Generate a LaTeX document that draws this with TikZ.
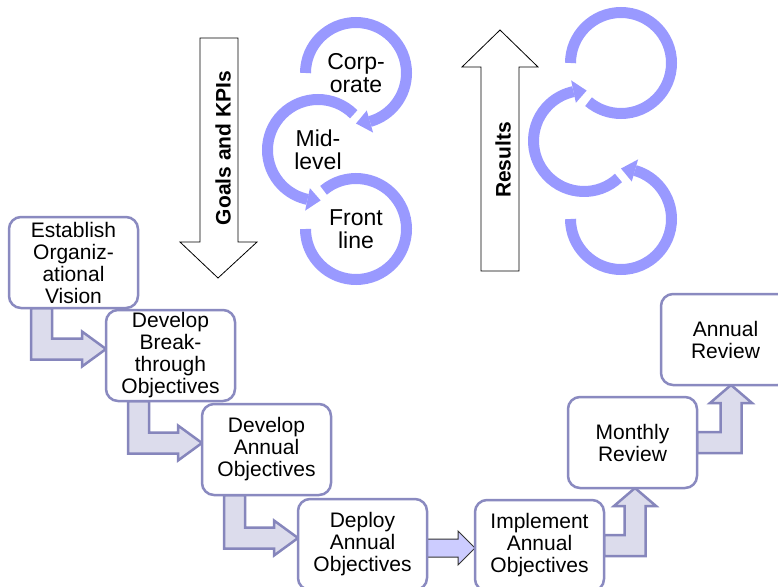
\documentclass[tikz,border=0pt]{standalone}
\usepackage{fontspec}
\setmainfont{Liberation Sans}
\usetikzlibrary{calc,backgrounds}

\definecolor{boxline}{HTML}{8A8AC0}
\definecolor{bentfill}{HTML}{DCDCEC}
\definecolor{bentline}{HTML}{8686BC}
\definecolor{ringcol}{HTML}{9999FF}
\definecolor{flowfill}{HTML}{CCCCFF}

\tikzset{
  stepbox/.style={draw=boxline, line width=2.5pt, fill=white, rounded corners=12pt,
    minimum width=129pt, minimum height=91pt, inner sep=0pt, outer sep=0pt,
    align=center, font=\fontsize{21}{22}\selectfont, anchor=north west},
  bent/.style={fill=bentfill, draw=bentline, line width=2.5pt, line join=miter},
  flowarrow/.style={fill=flowfill, draw=black!80, line width=1pt},
  bigarrow/.style={fill=white, draw=black, line width=0.8pt},
  ring/.style={draw=ringcol, line width=11pt},
  ringhead/.style={fill=ringcol},
  ringtext/.style={align=center, font=\fontsize{23}{23}\selectfont, inner sep=0pt},
  sidetext/.style={rotate=90, font=\fontsize{21}{22}\selectfont\bfseries, inner sep=0pt},
}

% bent connector: down from the bottom of #1, then right into the left side of #2
\newcommand\bentlink[2]{%
  \path (#2.north west) ++(0,-39) coordinate (#1#2tip);
  \draw[bent] ($(#1.south west)+(22,0)$) |- ($(#1#2tip)+(-24,-10.5)$) -- ++(0,-7)
    -- (#1#2tip) -- ++(-24,17.5) -- ++(0,-7) -| ($(#1.south west)+(43,0)$) -- cycle;
}
% bent connector: right from the side of #1, then up into the bottom of #2
\newcommand\uplink[3]{%
  \path (#2.south west) ++(#3,0) coordinate (#1#2tip);
  \draw[bent] ($(#1.east)+(0,10.5)$) -| ($(#1#2tip)+(-10.5,-18)$) -- ++(-10.5,0)
    -- (#1#2tip) -- ++(21,-18) -- ++(-10.5,0) |- ($(#1.east)+(0,-10.5)$) -- cycle;
}
% ring with an arrow head at its end: centre, start angle, end angle, tip angle
\newcommand\ringarrow[4]{%
  \draw[ring] ($(#1)+(#2:50.5)$) arc[start angle=#2, end angle=#3, radius=50.5];
  \fill[ringhead] ($(#1)+(#3:39)$) -- ($(#1)+(#3:62)$) -- ($(#1)+(#4:50.5)$) -- cycle;
}

\begin{document}
\begin{tikzpicture}[x=1pt,y=1pt]
  \useasboundingbox (0,0) rectangle (778,-586);
  \clip (0,0) rectangle (778,-586);

  % cascade of steps
  \node[stepbox] (B1) at (9,-217)   {Establish\\Organiz-\\ational\\Vision};
  \node[stepbox] (B2) at (106,-310) {Develop\\Break-\\through\\Objectives};
  \node[stepbox] (B3) at (202,-404) {Develop\\Annual\\Objectives};
  \node[stepbox] (B4) at (298,-499) {Deploy\\Annual\\Objectives};
  \node[stepbox] (B5) at (475,-500) {Implement\\Annual\\Objectives};
  \node[stepbox] (B6) at (568,-397) {Monthly\\Review};
  \node[stepbox] (B7) at (661,-294) {Annual\\Review};

  \begin{scope}[on background layer]
    \bentlink{B1}{B2}
    \bentlink{B2}{B3}
    \bentlink{B3}{B4}
    \path (B4.north east) ++(0,-49) coordinate (B4B5a);
    \draw[flowarrow] ($(B4B5a)+(0,9)$) -- ($(B4B5a -| B5.west)+(-17,9)$) -- ++(0,8)
      -- (B4B5a -| B5.west) -- ++(-17,-17) -- ++(0,8) -- ($(B4B5a)+(0,-9)$) -- cycle;
    \uplink{B5}{B6}{67}
    \uplink{B6}{B7}{70}
  \end{scope}

  % goals flow down
  \draw[bigarrow] (200,-38) -- (238,-38) -- (238,-242) -- (257,-242) -- (218,-278)
    -- (180,-242) -- (200,-242) -- cycle;
  \node[sidetext] (goals) at (223,-148) {Goals and KPIs};

  \coordinate (cCorp) at (356,-73);
  \coordinate (cMid) at (318,-150);
  \coordinate (cFront) at (356,-229);
  \ringarrow{cCorp}{180}{-74}{-90}
  \ringarrow{cMid}{45}{258}{273}
  \draw[ring] ($(cFront)+(130:50.5)$) arc[start angle=130, end angle=-180, radius=50.5];
  \node[ringtext] (corp) at (cCorp) {Corp-\\orate};
  \node[ringtext] (mid) at (cMid) {Mid-\\level};
  \node[ringtext] (front) at (cFront) {Front\\line};

  % results flow up
  \draw[bigarrow] (481,-271) -- (519,-271) -- (519,-67) -- (538,-67) -- (500,-30)
    -- (462,-67) -- (481,-67) -- cycle;
  \node[sidetext] (results) at (503,-160) {Results};

  \coordinate (rTop) at (621,-63);
  \coordinate (rMid) at (584,-141);
  \coordinate (rBot) at (621,-219);
  \draw[ring] ($(rTop)+(180:50.5)$) arc[start angle=180, end angle=-130, radius=50.5];
  \ringarrow{rMid}{-47}{-258}{-273}
  \ringarrow{rBot}{180}{434}{450}
\end{tikzpicture}
\end{document}
